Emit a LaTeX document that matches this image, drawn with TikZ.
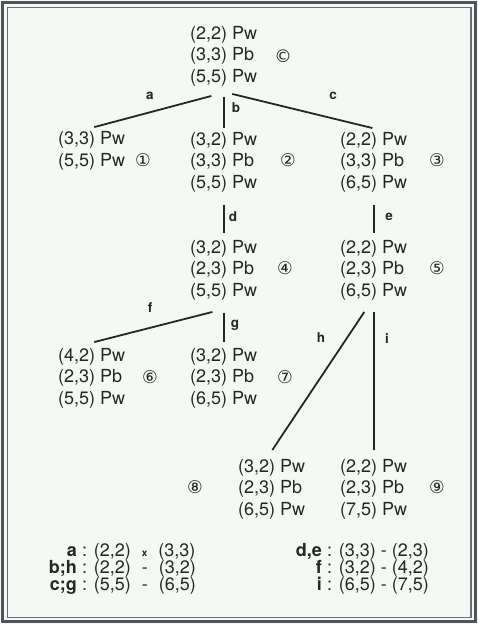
\documentclass[tikz,border=0pt]{standalone}
\usepackage{fontspec}
\setmainfont{TeX Gyre Heros}
\newfontfamily\symfont{DejaVu Sans}
\definecolor{ink}{HTML}{262626}
\definecolor{bg}{HTML}{F5F8F4}
\definecolor{frameA}{HTML}{4E555B}
\definecolor{frameB}{HTML}{6A6F72}
\newcommand{\gp}{\hspace{11pt}}
\begin{document}
\begin{tikzpicture}[x=1pt,y=-1pt,
  tn/.style={anchor=west,inner sep=0pt,align=left,font=\fontsize{18}{21.5}\selectfont,text=ink},
  cn/.style={inner sep=0pt,font=\symfont\fontsize{17.5}{17.5}\selectfont,text=ink},
  el/.style={inner sep=0pt,font=\bfseries\fontsize{13.5}{13.5}\selectfont,text=ink},
  edge/.style={draw=ink,line width=1.8pt},
  lk/.style={anchor=base east,inner sep=0pt,font=\bfseries\fontsize{18}{18}\selectfont,text=ink},
  lv/.style={anchor=base west,inner sep=0pt,font=\fontsize{18}{18}\selectfont,text=ink}]
\fill[bg] (0,0) rectangle (478,624);
\useasboundingbox (0,0) rectangle (478,624);
\draw[line width=3pt,frameA] (2.5,2.5) rectangle (475.5,621.5);
\draw[line width=1.2pt,frameB] (7.5,7.5) rectangle (471,617.5);
% tree nodes
\node[tn] (root) at (190,56) {(2,2) Pw\\(3,3) Pb\\(5,5) Pw};
\node[tn] (n1) at (58,151) {(3,3) Pw\\(5,5) Pw};
\node[tn] (n2) at (190,162) {(3,2) Pw\\(3,3) Pb\\(5,5) Pw};
\node[tn] (n3) at (340,162) {(2,2) Pw\\(3,3) Pb\\(6,5) Pw};
\node[tn] (n4) at (190,270) {(3,2) Pw\\(2,3) Pb\\(5,5) Pw};
\node[tn] (n5) at (340,270) {(2,2) Pw\\(2,3) Pb\\(6,5) Pw};
\node[tn] (n6) at (58,378) {(4,2) Pw\\(2,3) Pb\\(5,5) Pw};
\node[tn] (n7) at (190,378) {(3,2) Pw\\(2,3) Pb\\(6,5) Pw};
\node[tn] (n8) at (238,489) {(3,2) Pw\\(2,3) Pb\\(6,5) Pw};
\node[tn] (n9) at (340,489) {(2,2) Pw\\(2,3) Pb\\(7,5) Pw};
% circled marks
\node[cn] (cC) at (283,56) {©};
\node[cn] (c1) at (143,160) {①};
\node[cn] (c2) at (288,160) {②};
\node[cn] (c3) at (437,160) {③};
\node[cn] (c4) at (285,268) {④};
\node[cn] (c5) at (437,268) {⑤};
\node[cn] (c6) at (150,377) {⑥};
\node[cn] (c7) at (285,377) {⑦};
\node[cn] (c8) at (195,487) {⑧};
\node[cn] (c9) at (437,487) {⑨};
% edges
\draw[edge] ([shift={(-12.4pt,-9.8pt)}]root.south) -- ([shift={(2.6pt,4.5pt)}]n1.north);
\draw[edge] ([yshift=-11pt]root.south) -- ([yshift=4pt]n2.north);
\draw[edge] ([shift={(8.6pt,-7.8pt)}]root.south) -- ([shift={(-1.4pt,3.8pt)}]n3.north);
\draw[edge] ([yshift=-12.8pt]n2.south) -- ([yshift=6.8pt]n4.north);
\draw[edge] ([yshift=-12.8pt]n3.south) -- ([yshift=6.8pt]n5.north);
\draw[edge] ([shift={(-11.4pt,-11.8pt)}]n4.south) -- ([shift={(2.6pt,5.8pt)}]n6.north);
\draw[edge] ([yshift=-12.8pt]n4.south) -- ([yshift=5.8pt]n7.north);
\draw[edge] ([shift={(-9.4pt,-11.8pt)}]n5.south) -- ([shift={(0.6pt,8.8pt)}]n8.north);
\draw[edge] ([yshift=-11.8pt]n5.south) -- ([yshift=8.8pt]n9.north);
% edge labels
\node[el] (la) at (150,96) {a};
\node[el] (lb) at (236,108) {b};
\node[el] (lc) at (333,96) {c};
\node[el] (ld) at (233,217) {d};
\node[el] (le) at (389,217) {e};
\node[el] (lf) at (150,308) {f};
\node[el] (lg) at (235,325) {g};
\node[el] (lh) at (321,338) {h};
\node[el] (li) at (387,338) {i};
% legend
\node[lk] (ka) at (77,556) {a};
\node[lv] (va) at (77,556) {\ : (2,2)\gp{\bfseries\fontsize{10}{10}\selectfont x}\gp(3,3)};
\node[lk] (kb) at (77,573) {b;h};
\node[lv] (vb) at (77,573) {\ : (2,2)\gp-\gp(3,2)};
\node[lk] (kc) at (77,590) {c;g};
\node[lv] (vc) at (77,590) {\ : (5,5)\gp-\gp(6,5)};
\node[lk] (kd) at (322,556) {d,e};
\node[lv] (vd) at (322,556) {\ : (3,3) - (2,3)};
\node[lk] (kf) at (322,573) {f};
\node[lv] (vf) at (322,573) {\ : (3,2) - (4,2)};
\node[lk] (ki) at (322,590) {i};
\node[lv] (vi) at (322,590) {\ : (6,5) - (7,5)};
\end{tikzpicture}
\end{document}
